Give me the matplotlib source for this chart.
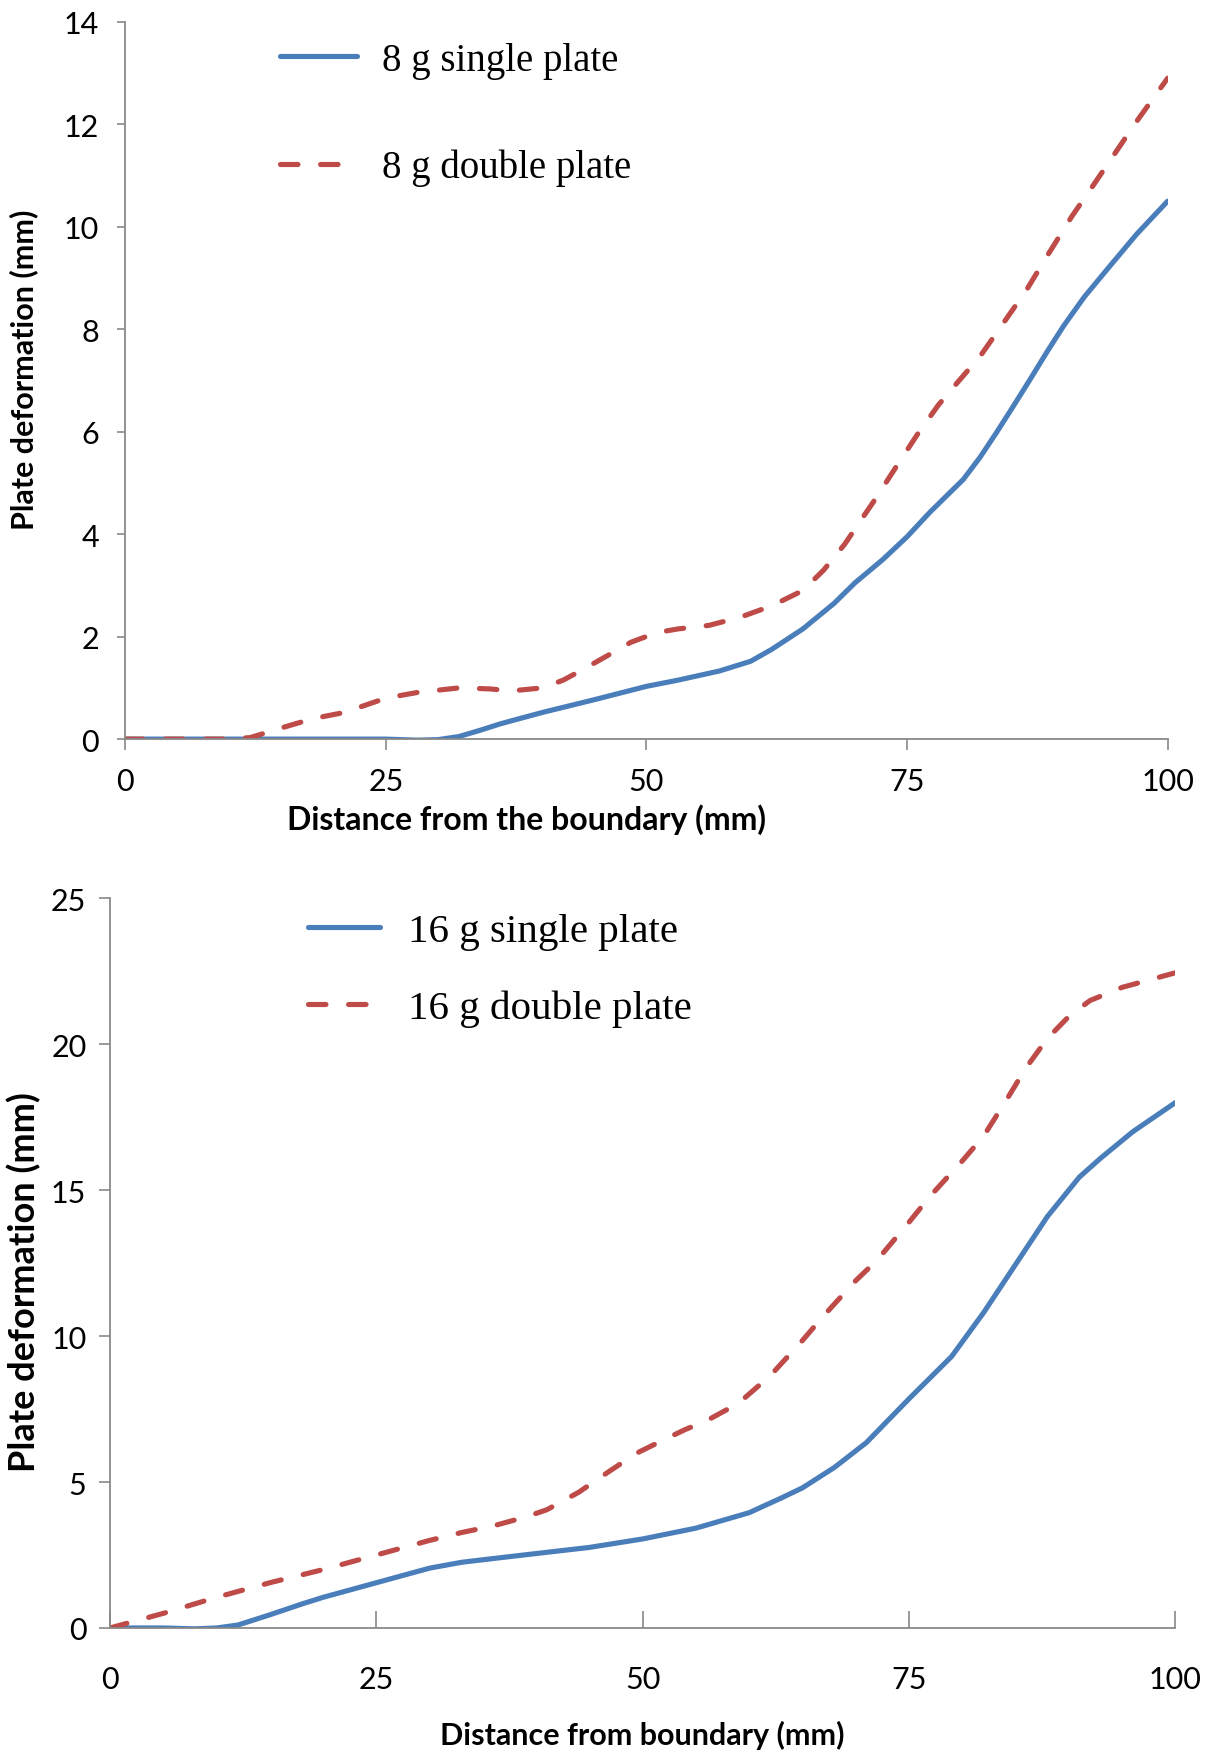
"""
Plate deformation vs distance from the boundary, single vs double plate.
Two stacked panels (8 g and 16 g).
"""

import numpy as np
import matplotlib
matplotlib.use("Agg")
import matplotlib.pyplot as plt

# ---- data ----
x_single_8g = [0, 10, 20, 25, 28, 30, 32, 34, 36, 38, 40, 45, 50, 53, 57, 60,
               62, 65, 68, 70, 72.7, 75, 77.2, 80.4, 82, 83.6, 85.2, 86.8, 88.4,
               90, 92, 94.2, 97, 100]
single_8g = [0, 0, 0, 0, -0.02, -0.01, 0.05, 0.17, 0.3, 0.41, 0.52, 0.77, 1.03,
             1.15, 1.33, 1.52, 1.75, 2.15, 2.65, 3.05, 3.51, 3.95, 4.43, 5.07,
             5.5, 5.99, 6.5, 7.02, 7.55, 8.06, 8.63, 9.17, 9.85, 10.5]

x_double_8g = [0, 5, 10, 12, 15, 18, 21, 25, 28, 32, 35, 37, 40, 42, 44, 46,
               48.5, 51, 53, 56, 59, 62, 65, 67, 69, 72, 74, 76, 78, 80, 82, 84,
               86.5, 88.5, 90.8, 93, 95, 97, 100]
double_8g = [0, 0, 0, 0.03, 0.22, 0.4, 0.52, 0.8, 0.91, 1.0, 0.98, 0.94, 1.0,
             1.15, 1.37, 1.6, 1.89, 2.08, 2.15, 2.22, 2.38, 2.6, 2.9, 3.3, 3.8,
             4.7, 5.33, 5.95, 6.52, 7.0, 7.47, 8.05, 8.78, 9.45, 10.2, 10.85,
             11.45, 12.05, 12.9]

x_single_16g = [0, 5, 8, 10, 12, 15, 18, 20, 23, 25, 28, 30, 33, 36, 40, 45,
                50, 55, 60, 63, 65, 68, 71, 75, 79, 82, 85, 88, 91, 93, 96, 98,
                100]
single_16g = [0, 0, -0.03, 0, 0.1, 0.45, 0.82, 1.05, 1.35, 1.55, 1.85, 2.05,
              2.25, 2.38, 2.55, 2.76, 3.05, 3.42, 3.95, 4.45, 4.8, 5.5, 6.35,
              7.85, 9.3, 10.8, 12.45, 14.1, 15.45, 16.1, 17.0, 17.5, 18.0]

x_double_16g = [0, 5, 10, 15, 20, 25, 30, 33, 36, 39, 41, 44, 47, 49.5, 52, 54,
                56, 59, 62, 65, 67, 70, 72, 75, 77, 80, 82, 84, 86, 88, 90, 92,
                95, 98, 100]
double_16g = [0, 0.5, 1.05, 1.55, 2.0, 2.5, 3.0, 3.27, 3.5, 3.8, 4.05, 4.65,
              5.4, 6.0, 6.45, 6.8, 7.1, 7.7, 8.65, 9.85, 10.7, 11.9, 12.6, 13.9,
              14.8, 16.0, 16.85, 18.0, 19.2, 20.2, 20.95, 21.5, 21.95, 22.25,
              22.45]

x_ticks = [0, 25, 50, 75, 100]
y_ticks_top = [0, 2, 4, 6, 8, 10, 12, 14]
y_ticks_bot = [0, 5, 10, 15, 20, 25]

BLUE = "#4A7EBB"
RED = "#BE4B48"
AXIS_GRAY = "#898989"
TICK_FONT = "Lato"
LEGEND_FONT = "Liberation Serif"
LINE_W = 3.7
DASH = (3.4, 4.4)


def style_axes(ax, x_tick_dir, x_tick_len, y_tick_len, tick_size):
    for side in ("top", "right"):
        ax.spines[side].set_visible(False)
    for side in ("left", "bottom"):
        ax.spines[side].set_color(AXIS_GRAY)
        ax.spines[side].set_linewidth(1.3)
    ax.tick_params(axis="x", direction=x_tick_dir, length=x_tick_len,
                   width=1.2, color=AXIS_GRAY, labelsize=tick_size)
    ax.tick_params(axis="y", direction="out", length=y_tick_len,
                   width=1.2, color=AXIS_GRAY, labelsize=tick_size)
    for lab in ax.get_xticklabels() + ax.get_yticklabels():
        lab.set_fontfamily(TICK_FONT)


fig = plt.figure(figsize=(12.05, 17.58), dpi=100)

# ---- top panel: 8 g ----
ax1 = fig.add_axes([0.104, 0.579, 0.865, 0.408])
ax1.plot(x_single_8g, single_8g, color=BLUE, lw=LINE_W,
         solid_joinstyle="round", solid_capstyle="round",
         label="8 g single plate")
ax1.plot(x_double_8g, double_8g, color=RED, lw=LINE_W, dashes=DASH,
         dash_capstyle="round", label="8 g double plate")
ax1.set_xlim(0, 100)
ax1.set_ylim(0, 14)
ax1.set_xticks(x_ticks)
ax1.set_yticks(y_ticks_top)
style_axes(ax1, "out", 8, 6, 22)
ax1.tick_params(axis="x", pad=12)
ax1.tick_params(axis="y", pad=13)
ax1.set_xlabel("Distance from the boundary (mm)", fontsize=23,
               fontweight="bold", fontfamily=TICK_FONT)
ax1.xaxis.set_label_coords(0.385, -0.089)
ax1.set_ylabel("Plate deformation (mm)", fontsize=22, fontweight="bold",
               fontfamily=TICK_FONT)
ax1.yaxis.set_label_coords(-0.084, 0.516)
ax1.legend(loc="upper left", bbox_to_anchor=(0.148, 0.972), frameon=False,
           borderpad=0, borderaxespad=0, handlelength=2.0, handletextpad=0.64,
           labelspacing=1.8, prop={"family": LEGEND_FONT, "size": 28})

# ---- bottom panel: 16 g ----
ax2 = fig.add_axes([0.0913, 0.0734, 0.884, 0.415])
ax2.plot(x_single_16g, single_16g, color=BLUE, lw=LINE_W,
         solid_joinstyle="round", solid_capstyle="round",
         label="16 g single plate")
ax2.plot(x_double_16g, double_16g, color=RED, lw=LINE_W, dashes=DASH,
         dash_capstyle="round", label="16 g double plate")
ax2.set_xlim(0, 100)
ax2.set_ylim(0, 25)
ax2.set_xticks(x_ticks)
ax2.set_yticks(y_ticks_bot)
style_axes(ax2, "in", 12, 8, 22)
ax2.tick_params(axis="x", pad=27)
ax2.tick_params(axis="y", pad=9)
ax2.set_xlabel("Distance from boundary (mm)", fontsize=22,
               fontweight="bold", fontfamily=TICK_FONT)
ax2.xaxis.set_label_coords(0.5, -0.126)
ax2.set_ylabel("Plate deformation (mm)", fontsize=26, fontweight="bold",
               fontfamily=TICK_FONT)
ax2.yaxis.set_label_coords(-0.065, 0.475)
ax2.legend(loc="upper left", bbox_to_anchor=(0.186, 0.981), frameon=False,
           borderpad=0, borderaxespad=0, handlelength=1.75, handletextpad=0.68,
           labelspacing=0.96, prop={"family": LEGEND_FONT, "size": 29.5})

fig.savefig("out.png", dpi=100)
